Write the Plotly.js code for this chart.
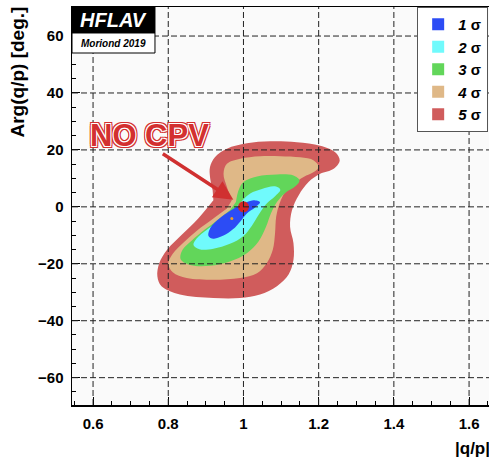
<!DOCTYPE html>
<html><head><meta charset="utf-8">
<script src="https://cdn.plot.ly/plotly-3.0.1.min.js"></script>
<style>html,body{margin:0;padding:0;background:#fff}#chart{width:489px;height:461px}</style>
</head><body><div id="chart"></div>
<script>
// ---- data ----
const levelNames = ['1', '2', '3', '4', '5'];
const levelColors = ['#2c4cf5', '#70fafc', '#62d65a', '#dfb887', '#d05c5c'];

const sigma1X = [1.004, 1.027, 1.044, 1.031, 1.009, 0.991, 0.972, 0.947, 0.920, 0.907, 0.913, 0.936, 0.964, 0.987];
const sigma1Y = [1.4, 2.3, 1.6, -0.2, -2.3, -5.2, -7.9, -10.1, -11.2, -10.2, -7.2, -4.1, -1.5, 0.35];

const sigma2X = [0.996, 1.018, 1.049, 1.084, 1.098, 1.084, 1.060, 1.040, 1.022, 1.000, 0.964, 0.920, 0.883, 0.867, 0.876, 0.902, 0.938, 0.973];
const sigma2Y = [2.1, 4.7, 6.3, 7.2, 6.0, 3.7, 0.9, -2.9, -6.7, -10.2, -13.0, -14.7, -14.9, -13.4, -11.0, -8.1, -4.9, -1.2];

const sigma3X = [0.980, 0.987, 1.000, 1.036, 1.089, 1.133, 1.149, 1.138, 1.111, 1.089, 1.073, 1.060, 1.040, 1.009, 0.964, 0.911, 0.858, 0.833, 0.838, 0.862, 0.898, 0.933, 0.964];
const sigma3Y = [1.7, 5.8, 8.7, 10.7, 11.4, 11.0, 9.3, 7.2, 4.9, 1.7, -2.3, -7.0, -12.2, -16.3, -19.2, -20.7, -20.4, -18.4, -15.1, -11.9, -7.9, -4.4, -1.2];

const sigma4X = [0.969, 0.956, 0.947, 0.956, 0.991, 1.044, 1.098, 1.151, 1.187, 1.200, 1.187, 1.160, 1.133, 1.111, 1.096, 1.087, 1.084, 1.078, 1.062, 1.036, 0.991, 0.920, 0.849, 0.812, 0.800, 0.812, 0.840, 0.876, 0.920, 0.956];
const sigma4Y = [2.3, 7.0, 11.6, 15.1, 16.9, 17.8, 17.8, 17.4, 16.3, 14.0, 12.2, 10.5, 8.1, 5.2, 1.2, -3.5, -9.3, -15.1, -19.8, -23.3, -25.0, -25.6, -25.0, -23.0, -20.0, -16.5, -12.6, -8.4, -4.1, -0.6];

const sigma5X = [0.920, 0.876, 0.840, 0.797, 0.776, 0.771, 0.782, 0.831, 0.920, 0.991, 1.044, 1.089, 1.120, 1.133, 1.133, 1.124, 1.129, 1.147, 1.173, 1.204, 1.240, 1.256, 1.244, 1.204, 1.142, 1.071, 1.009, 0.956, 0.924, 0.911, 0.911, 0.918];
const sigma5Y = [2.3, -4.65, -9.3, -15.1, -19.8, -24.4, -27.9, -30.8, -32.0, -32.0, -30.8, -27.9, -23.8, -18.6, -12.8, -7.0, -1.2, 4.1, 8.7, 11.6, 13.4, 16.3, 19.2, 21.5, 22.7, 23.0, 22.3, 20.4, 17.4, 14.0, 10.5, 5.8];

const noCpvX = [1.0];
const noCpvY = [0];
const bestFitX = [0.969];
const bestFitY = [-4.1];

const xTickVals = [0.6, 0.8, 1.0, 1.2, 1.4, 1.6];
const yTickVals = [-60, -40, -20, 0, 20, 40, 60];

// ---- build the figure ----
const contourX = [sigma1X, sigma2X, sigma3X, sigma4X, sigma5X];
const contourY = [sigma1Y, sigma2Y, sigma3Y, sigma4Y, sigma5Y];

const traces = [];
for (let i = 4; i >= 0; i--) {
  traces.push({
    type: 'scatter', mode: 'lines', x: contourX[i], y: contourY[i],
    fill: 'toself', fillcolor: levelColors[i],
    line: {width: 0, shape: 'spline', smoothing: 1, color: levelColors[i]},
    showlegend: false, hoverinfo: 'skip'
  });
}
for (let i = 0; i < 5; i++) {
  traces.push({
    type: 'scatter', mode: 'markers', x: [null], y: [null],
    name: '<i>' + levelNames[i] + '</i> σ',
    marker: {symbol: 'square', size: 12, color: levelColors[i], line: {width: 0}},
    showlegend: true
  });
}
traces.push({type: 'scatter', mode: 'markers', x: bestFitX, y: bestFitY,
  marker: {size: 3, color: '#f0a020'}, showlegend: false});
traces.push({type: 'scatter', mode: 'markers', x: noCpvX, y: noCpvY,
  marker: {size: 11, color: '#d42525'}, showlegend: false});

const gridLine = {color: '#222', width: 1, dash: '6px,3px'};
const shapes = [];
xTickVals.forEach(v => shapes.push({type: 'line', xref: 'x', yref: 'paper', x0: v, x1: v, y0: 0, y1: 1, line: gridLine, layer: 'above'}));
yTickVals.forEach(v => shapes.push({type: 'line', xref: 'paper', yref: 'y', x0: 0, x1: 1, y0: v, y1: v, line: gridLine, layer: 'above'}));
// HFLAV logo boxes
shapes.push({type: 'rect', xref: 'paper', yref: 'paper', x0: 0, x1: 0.199, y0: 0.9347, y1: 1, fillcolor: '#000', line: {color: '#000', width: 1}, layer: 'above'});
shapes.push({type: 'rect', xref: 'paper', yref: 'paper', x0: 0, x1: 0.199, y0: 0.8844, y1: 0.9347, fillcolor: '#fff', line: {color: '#000', width: 1}, layer: 'above'});

const tickFont = {family: 'Liberation Sans, Arial, sans-serif', size: 15, color: '#000', weight: 'bold'};

const layout = {
  width: 489, height: 461,
  margin: {l: 72, r: 0, t: 7, b: 56},
  paper_bgcolor: '#ffffff', plot_bgcolor: '#fafafa',
  showlegend: true,
  hovermode: false,
  xaxis: {
    range: [0.544, 1.653], tickvals: xTickVals, ticktext: xTickVals.map(v => String(v)),
    ticks: 'inside', ticklen: 8, tickwidth: 1, tickcolor: '#000',
    minor: {dtick: 0.05, tick0: 0, ticks: 'inside', ticklen: 4, tickcolor: '#000', showgrid: false},
    showgrid: false, zeroline: false, showline: true, linecolor: '#000', linewidth: 1.5, mirror: true,
    tickfont: tickFont, ticklabelstandoff: 4
  },
  yaxis: {
    range: [-69.6, 70.2], tickvals: yTickVals,
    ticks: 'inside', ticklen: 8, tickwidth: 1, tickcolor: '#000',
    minor: {dtick: 5, tick0: 0, ticks: 'inside', ticklen: 4, tickcolor: '#000', showgrid: false},
    showgrid: false, zeroline: false, showline: true, linecolor: '#000', linewidth: 1.5, mirror: true,
    tickfont: tickFont, ticklabelstandoff: 4
  },
  legend: {
    x: 0.998, xanchor: 'right', y: 1, yanchor: 'top',
    bgcolor: '#ffffff', bordercolor: '#555', borderwidth: 1,
    font: {family: 'Liberation Sans, Arial, sans-serif', size: 15, color: '#000', weight: 'bold'},
    itemwidth: 30, tracegroupgap: 0, traceorder: 'normal'
  },
  shapes: shapes,
  annotations: [
    {xref: 'paper', yref: 'paper', x: 0.0995, y: 0.9673, xanchor: 'center', yanchor: 'middle',
     text: '<b><i>HFLAV</i></b>', showarrow: false,
     font: {family: 'Liberation Sans, Arial, sans-serif', size: 20, color: '#fff'}},
    {xref: 'paper', yref: 'paper', x: 0.0995, y: 0.9095, xanchor: 'center', yanchor: 'middle',
     text: '<b><i>Moriond 2019</i></b>', showarrow: false,
     font: {family: 'Liberation Sans, Arial, sans-serif', size: 10, color: '#000'}},
    {xref: 'paper', yref: 'paper', x: 0, y: 1, xanchor: 'center', yanchor: 'top', xshift: -55, yshift: 2,
     textangle: -90, text: '<b>Arg(q/p) [deg.]</b>', showarrow: false,
     font: {family: 'Liberation Sans, Arial, sans-serif', size: 19, color: '#000'}},
    {xref: 'paper', yref: 'paper', x: 1, y: 0, xanchor: 'right', yanchor: 'middle', xshift: 3, yshift: -43,
     text: '<b>|q/p|</b>', showarrow: false,
     font: {family: 'Liberation Sans, Arial, sans-serif', size: 17, color: '#000'}},
    {xref: 'x', yref: 'y', x: 0.973, y: 2.5, ax: -72, ay: -47, axref: 'pixel', ayref: 'pixel',
     text: '', showarrow: true, arrowhead: 2, arrowsize: 1.1, arrowwidth: 3.5, arrowcolor: '#d03030', standoff: 0},
    {xref: 'paper', yref: 'paper', x: 0.0395, y: 0.678, xanchor: 'left', yanchor: 'middle',
     text: '<b>NO CPV</b>', showarrow: false,
     font: {family: 'Liberation Sans, Arial, sans-serif', size: 31, color: '#d33030',
            shadow: '1px 1px 0 #fff, -1px -1px 0 #fff, 1px -1px 0 #fff, -1px 1px 0 #fff, 2px 2px 0 #d33030, -2px -2px 0 #d33030, 2px -2px 0 #d33030, -2px 2px 0 #d33030, 0 2px 0 #d33030, 0 -2px 0 #d33030, 2px 0 0 #d33030, -2px 0 0 #d33030'}}
  ]
};

Plotly.newPlot('chart', traces, layout, {staticPlot: true, displayModeBar: false});
</script>
</body></html>
